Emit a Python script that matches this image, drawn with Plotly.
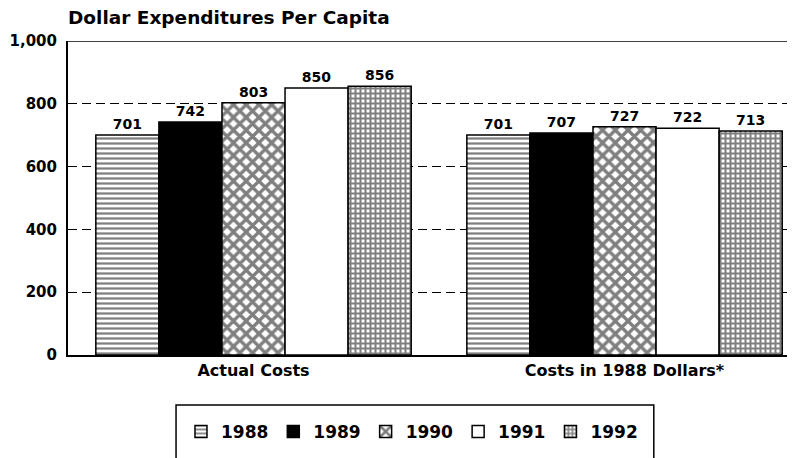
import plotly.graph_objects as go

categories = ["Actual Costs", "Costs in 1988 Dollars*"]
years = ["1988", "1989", "1990", "1991", "1992"]
values = {
    "1988": [701, 701],
    "1989": [742, 707],
    "1990": [803, 727],
    "1991": [850, 722],
    "1992": [856, 713],
}
tick_vals = [0, 200, 400, 600, 800, 1000]

FONT = "DejaVu Sans"

styles = {
    "1988": dict(color="white", pattern=dict(shape="-", fgcolor="black", bgcolor="white", size=5, solidity=0.45)),
    "1989": dict(color="black", pattern=dict(shape="")),
    "1990": dict(color="white", pattern=dict(shape="x", fgcolor="black", bgcolor="white", size=9, solidity=0.6)),
    "1991": dict(color="white", pattern=dict(shape="")),
    "1992": dict(color="white", pattern=dict(shape="+", fgcolor="black", bgcolor="white", size=5, solidity=0.65)),
}

fig = go.Figure()
for y in years:
    st = styles[y]
    fig.add_trace(go.Bar(
        name=y, x=categories, y=values[y],
        marker=dict(color=st["color"], pattern=st["pattern"], line=dict(color="black", width=1.5)),
        text=values[y], textposition="outside", cliponaxis=False,
        textfont=dict(family=FONT, size=14, color="black", weight="bold"),
    ))

# solid frame line at the top value
fig.add_shape(type="line", xref="paper", yref="y", x0=0, x1=1, y0=1000, y1=1000,
              line=dict(color="black", width=1.5))
# legend frame
fig.add_shape(type="rect", xref="paper", yref="paper", x0=0.147, x1=0.797, y0=-0.159, y1=-0.37,
              line=dict(color="black", width=1.5), fillcolor="rgba(0,0,0,0)")

fig.update_layout(
    width=795, height=458,
    margin=dict(l=60, r=0, t=33, b=111, autoexpand=False),
    paper_bgcolor="white", plot_bgcolor="white",
    barmode="group", bargap=0.15, bargroupgap=0,
    font=dict(family=FONT, color="black", size=14, weight="bold"),
    title=dict(text="Dollar Expenditures Per Capita", x=0, xref="paper", xanchor="left",
               y=1 - 10 / 458, yanchor="middle", pad=dict(l=0, r=0, t=0, b=0),
               font=dict(family=FONT, size=18.5, weight="bold", color="black")),
    showlegend=True,
    legend=dict(orientation="h", x=0.468, xanchor="center", y=-0.245, yanchor="middle",
                borderwidth=0, bgcolor="rgba(0,0,0,0)",
                font=dict(family=FONT, size=17, weight="bold", color="black"),
                itemwidth=30, traceorder="normal"),
)
fig.update_yaxes(range=[0, 1000], tickvals=tick_vals, tickformat=",",
                 showgrid=True, gridcolor="black", griddash="9px,5px", gridwidth=1,
                 showline=True, linecolor="black", linewidth=2, ticks="", zeroline=False,
                 ticklabelstandoff=6, automargin=False,
                 tickfont=dict(family=FONT, size=15, weight="bold"))
fig.update_xaxes(range=[-0.5, 1.481], showline=True, linecolor="black", linewidth=2, ticks="",
                 automargin=False,
                 tickfont=dict(family=FONT, size=16, weight="bold"))

fig.write_html("out.html")
